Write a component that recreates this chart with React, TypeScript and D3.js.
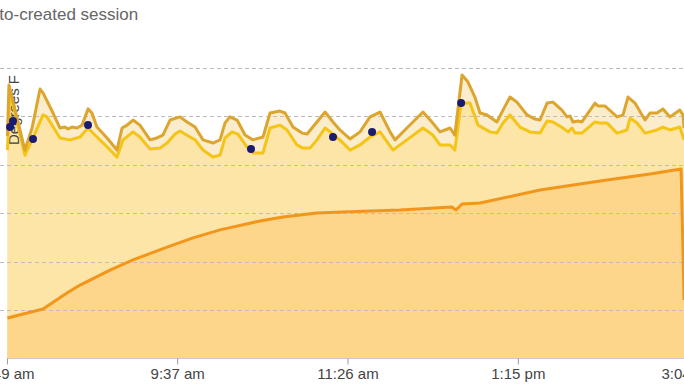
import React from 'react';
import * as d3 from 'd3';

const W = 684;
const H = 384;

// minutes after 7:48 am
const tickMinutes = [0, 109, 218, 327, 436];
const tickLabels = ['7:49 am', '9:37 am', '11:26 am', '1:15 pm', '3:04 pm'];
const gridTemps = [20, 40, 60, 80, 100, 120];

const upperTimes = [0, 1, 11.2, 15.8, 20.9, 22.8, 29.2, 33.7, 36.9, 38.8, 41.3, 44.6, 47.8, 51.6, 54.1, 57.3, 63.8, 70.1, 73.4, 76.6, 80.4, 84.8, 91.3, 95.7, 99.5, 104.1, 110.4, 115, 120.1, 125.2, 131.6, 136.1, 139.3, 142.4, 147, 152.1, 157.1, 163.6, 168.1, 174.5, 177.7, 182.8, 188.6, 191.8, 198.1, 203.3, 208.4, 212.8, 219.3, 225.7, 232.1, 238.5, 244.9, 248.1, 255.7, 266, 271.7, 276.9, 283.3, 286.4, 291, 294.8, 299.2, 302.5, 307, 313.3, 317.2, 321.7, 326.1, 332.6, 337.7, 340.9, 345.4, 349.2, 354.9, 358.2, 360.1, 362, 365.2, 367.7, 376.1, 378, 382.5, 390.2, 394, 397.2, 401.7, 408.1, 411.3, 415.7, 419.6, 424.1, 430.4, 432.4, 433.1];
const upperTemps = [91.9, 113.0, 86.1, 95.2, 111.3, 109.7, 101.4, 95.2, 95.6, 94.8, 95.6, 95.2, 96.4, 103.1, 101.4, 95.6, 91.1, 86.1, 95.2, 96.4, 98.5, 96.4, 90.3, 91.1, 92.3, 98.5, 99.8, 97.7, 95.6, 90.3, 89.0, 90.3, 97.3, 99.8, 98.5, 92.3, 90.3, 91.5, 101.4, 102.2, 101.4, 95.6, 93.1, 92.7, 97.7, 101.8, 97.7, 94.4, 90.7, 93.6, 99.8, 101.8, 93.6, 90.3, 95.2, 101.8, 97.7, 93.6, 95.2, 92.3, 117.1, 114.2, 108.0, 101.4, 100.6, 97.7, 102.6, 108.0, 105.9, 100.6, 98.9, 98.5, 105.5, 105.9, 102.6, 99.8, 100.2, 97.7, 98.1, 97.7, 105.5, 104.3, 104.3, 99.8, 100.6, 108.0, 105.5, 98.5, 101.4, 101.4, 103.1, 99.8, 102.6, 100.6, 95.2];

const lowerTimes = [0, 1.7, 11.2, 16.4, 22.8, 25.3, 30.5, 33.7, 40, 46.5, 51.6, 56, 63.8, 70.1, 74, 80.4, 84.8, 91.3, 97.6, 102.2, 107.3, 110.4, 116.9, 120.1, 125.2, 131.6, 136.1, 139.3, 143.8, 147.6, 153.3, 157.1, 163.6, 168.1, 174.5, 179, 185.3, 189.2, 193.7, 198.1, 203.3, 208.4, 212.8, 219.3, 225.7, 232.1, 238.5, 246.8, 255.7, 266, 272.3, 276.9, 283.3, 286.4, 290.4, 296.1, 301.2, 308.9, 313.3, 317.2, 321.7, 328, 334.5, 340.9, 345.4, 349.2, 355.6, 358.9, 361.4, 363.3, 367.7, 376.1, 379.3, 383.7, 390.2, 396.5, 398.5, 403, 408.1, 415.7, 419.6, 424.1, 430.4, 433.1];
const lowerTemps = [86.1, 110.1, 84.0, 91.1, 100.6, 99.8, 94.4, 91.1, 90.3, 91.5, 95.2, 92.3, 87.4, 83.2, 90.3, 93.6, 91.5, 86.5, 86.9, 89.0, 92.7, 94.0, 91.5, 90.3, 86.1, 83.2, 84.0, 91.1, 93.6, 92.7, 87.4, 84.9, 84.9, 95.2, 96.4, 94.4, 88.2, 86.9, 86.9, 90.3, 95.2, 92.7, 90.3, 86.1, 88.2, 91.5, 93.6, 86.1, 90.3, 95.2, 92.3, 88.2, 88.2, 86.1, 105.5, 105.5, 96.4, 93.6, 93.1, 97.3, 100.6, 95.6, 93.6, 93.1, 98.1, 97.7, 95.2, 93.6, 95.2, 93.1, 93.1, 97.7, 97.3, 97.3, 93.1, 94.4, 99.3, 97.3, 93.1, 94.4, 95.6, 94.4, 95.6, 90.3];

const ambientTimes = [0, 22.8, 38.1, 46.5, 65.7, 80.4, 102.2, 118.8, 136.1, 161.7, 176.4, 198.1, 214.1, 251.3, 284.5, 287.1, 291, 302.5, 340.9, 379.3, 411.3, 431.2, 433.1];
const ambientTemps = [16.7, 20.4, 27.0, 30.3, 36.5, 40.7, 46.0, 49.8, 53.1, 56.8, 58.4, 60.1, 60.5, 61.3, 62.6, 61.3, 63.8, 64.2, 69.6, 73.3, 76.2, 78.3, 24.1];

const markerTimes = [1.7, 3.6, 16.4, 51.6, 155.9, 208.4, 233.4, 290.4];
const markerTemps = [95.6, 98.1, 90.7, 96.4, 86.5, 91.5, 93.6, 105.5];

type Pt = [number, number];
const zip = (t: number[], v: number[]): Pt[] => t.map((tt, i) => [tt, v[i]]);

export default function App() {
  const x = d3.scaleLinear().domain([0, 436]).range([7.4, 688.6]);
  const y = d3.scaleLinear().domain([0, 120]).range([358.4, 68]);
  const area = d3.area<Pt>().x(d => x(d[0])).y0(y(0)).y1(d => y(d[1]));
  const line = d3.line<Pt>().x(d => x(d[0])).y(d => y(d[1]));

  const upper = zip(upperTimes, upperTemps);
  const lower = zip(lowerTimes, lowerTemps);
  const ambient = zip(ambientTimes, ambientTemps);
  const markers = zip(markerTimes, markerTemps);

  return (
    <svg
      width={W}
      height={H}
      style={{ position: 'absolute', left: 0, top: 0, display: 'block', overflow: 'hidden' }}
      fontFamily="'Liberation Sans', Arial, sans-serif"
    >
      <rect width={W} height={H} fill="#ffffff" />
      <text x={-21.5} y={19.5} fontSize={17} fill="#666666">Auto-created session</text>

      <path d={area(upper) || ''} fill="#FBEDCC" />
      <path d={area(lower) || ''} fill="#FDE4A7" />
      <path d={area(ambient) || ''} fill="#FDD58B" />

      {gridTemps.map(g => (
        <line key={g} x1={0} x2={W} y1={Math.round(y(g)) + 0.5} y2={Math.round(y(g)) + 0.5}
          stroke="#bdbdbd" strokeWidth={1} strokeDasharray="4,3" />
      ))}

      <line x1={x(0)} x2={W} y1={y(0) + 0.1} y2={y(0) + 0.1} stroke="#cccccc" strokeWidth={1} />
      {tickMinutes.map((t, i) => (
        <g key={t}>
          <line x1={x(t)} x2={x(t)} y1={y(0)} y2={y(0) + 6} stroke="#999999" strokeWidth={1} />
          <text x={x(t)} y={379} fontSize={15} fill="#444444" textAnchor="middle">{tickLabels[i]}</text>
        </g>
      ))}

      <text transform="translate(19,110) rotate(-90)" fontSize={15} fill="#444444" textAnchor="middle">Degrees F</text>

      <path d={line(ambient) || ''} fill="none" stroke="#F2961B" strokeWidth={3} strokeLinejoin="round" />
      <path d={line(lower) || ''} fill="none" stroke="#F4C416" strokeWidth={3} strokeLinejoin="round" />
      <path d={line(upper) || ''} fill="none" stroke="#DCA52E" strokeWidth={3} strokeLinejoin="round" />

      {markers.map((m, i) => (
        <circle key={i} cx={x(m[0])} cy={y(m[1])} r={4} fill="#1A1C72" />
      ))}
    </svg>
  );
}
